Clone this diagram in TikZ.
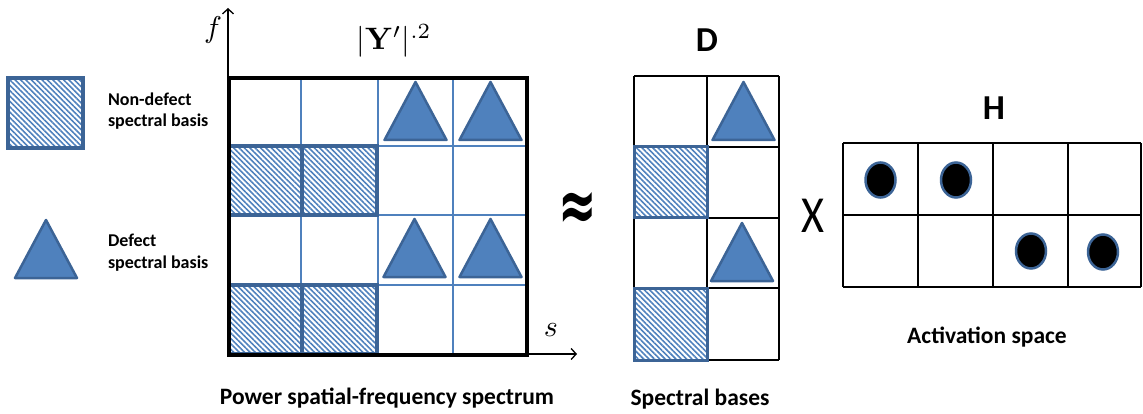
\documentclass[tikz,border=0pt]{standalone}
\usepackage[no-math]{fontspec}
\setmainfont{Carlito}
\newfontfamily\djv{DejaVu Sans}
\usetikzlibrary{patterns.meta,arrows.meta}
\definecolor{tfill}{RGB}{79,129,189}
\definecolor{tedge}{RGB}{60,100,150}
\definecolor{gline}{RGB}{79,129,189}
\newcommand\drawtri[2]{\draw[tribox] (#1-31,#2+58) -- (#1,#2) -- (#1+31,#2+58) -- cycle;}
\newcommand\bigmath[1]{\scalebox{3}{$#1$}}
\tikzset{
  every node/.style={inner sep=0pt, outer sep=0pt},
  hatchbox/.style={draw=tedge, line width=3.5pt, pattern={Lines[angle=-45,distance=3.8pt,line width=1.6pt]}, pattern color=tfill},
  tribox/.style={fill=tfill, draw=tedge, line width=2.5pt, line join=round},
  dotbox/.style={fill=black, draw=tedge, line width=2.5pt},
  blueline/.style={draw=gline, line width=1.3pt},
  blackgrid/.style={draw=black, line width=1.5pt},
  frame/.style={draw=black, line width=4pt},
  axis/.style={draw=black, line width=1.3pt, -{Straight Barb[length=5pt,width=11pt]}},
  legend/.style={font=\bfseries\fontsize{18}{20}\selectfont, anchor=base west},
  caption/.style={font=\bfseries\fontsize{23.5}{26}\selectfont, anchor=base},
  bigletter/.style={font=\bfseries\fontsize{35}{40}\selectfont, anchor=base},
  mathlab/.style={font=\normalsize, anchor=base},
}
\begin{document}
\begin{tikzpicture}[x=1pt,y=-1pt]
\useasboundingbox (0,0) rectangle (1143,414);
% ---------- legend
\draw[hatchbox] (8,78) rectangle (83,148);
\drawtri{46}{220}
\node[legend] (nd1) at (108,106) {Non-defect};
\node[legend] (nd2) at (108,127) {spectral basis};
\node[legend] (df1) at (108,247) {Defect};
\node[legend] (df2) at (108,268) {spectral basis};
% ---------- main grid
\foreach \x in {301,378,453} \draw[blueline] (\x,78) -- (\x,354);
\foreach \y in {146,215,285} \draw[blueline] (229,\y) -- (527,\y);
\draw[hatchbox] (229,146) rectangle (302,215);
\draw[hatchbox] (302,146) rectangle (377,215);
\draw[hatchbox] (229,285) rectangle (302,354);
\draw[hatchbox] (302,285) rectangle (377,354);
\drawtri{415.5}{82}
\drawtri{490.5}{82}
\drawtri{414.5}{219}
\drawtri{490.5}{219}
\coordinate (o) at (228,354);
\coordinate (ftip) at (228,8);
\coordinate (stip) at (577,354);
\draw[axis] (o) -- (ftip);
\draw[axis] (o) -- (stip);
\draw[frame] (229,78) rectangle (527,354.5);
\node[mathlab] (flab) at (213,38) {\bigmath{f}};
\node[mathlab] (slab) at (551,336) {\bigmath{s}};
\node[mathlab] (ttl) at (394,50) {\scalebox{3.1}{$|\mathbf{Y}'|^{.2}$}};
\node[caption] (cap1) at (387,404) {Power spatial-frequency spectrum};
% ---------- approx
\node (apx) at (578,211) {\scalebox{1}[1.6]{\djv\bfseries\fontsize{46}{50}\selectfont ≈}};
% ---------- D grid
\foreach \x in {634,707,779} \draw[blackgrid] (\x,76) -- (\x,360);
\foreach \y in {76,147,218,288,360} \draw[blackgrid] (634,\y) -- (779,\y);
\draw[hatchbox, line width=3pt] (634,147) rectangle (707,218);
\draw[hatchbox, line width=3pt] (634,288) rectangle (707,360);
\drawtri{743.5}{82}
\drawtri{742}{223}
\node[bigletter] (dlab) at (707,52) {D};
\node[caption] (cap2) at (700,405) {Spectral bases};
% ---------- times
\node (times) at (813,216) {\scalebox{0.85}[1]{\fontsize{52}{60}\selectfont X}};
% ---------- H grid
\foreach \x in {843,918,993,1068,1141} \draw[blackgrid] (\x,143) -- (\x,287);
\foreach \y in {143,215,287} \draw[blackgrid] (843,\y) -- (1141,\y);
\draw[dotbox] (880.5,180) ellipse [x radius=15, y radius=17.5];
\draw[dotbox] (956,180) ellipse [x radius=15, y radius=17.5];
\draw[dotbox] (1031,251) ellipse [x radius=15, y radius=17.5];
\draw[dotbox] (1103,252) ellipse [x radius=15, y radius=17.5];
\node[bigletter] (hlab) at (994,120) {H};
\node[caption] (cap3) at (987,343) {Activation space};
\end{tikzpicture}
\end{document}
